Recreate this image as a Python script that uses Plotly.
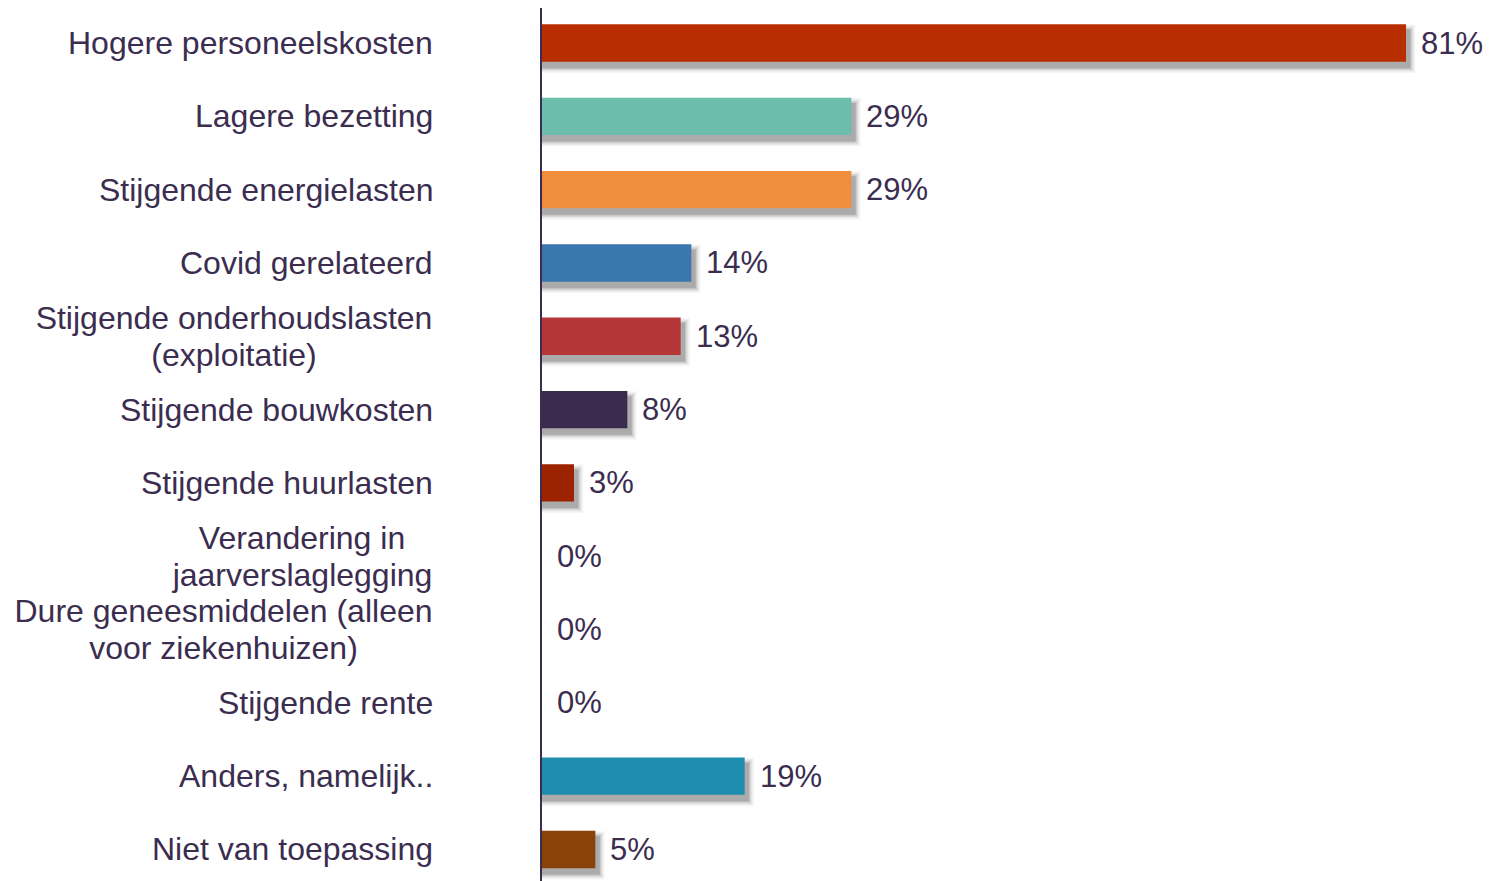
import plotly.graph_objects as go

categories = [
    "Hogere personeelskosten",
    "Lagere bezetting",
    "Stijgende energielasten",
    "Covid gerelateerd",
    "Stijgende onderhoudslasten<br>(exploitatie)",
    "Stijgende bouwkosten",
    "Stijgende huurlasten",
    "Verandering in<br>jaarverslaglegging",
    "Dure geneesmiddelen (alleen<br>voor ziekenhuizen)",
    "Stijgende rente",
    "Anders, namelijk..",
    "Niet van toepassing",
]
values = [81, 29, 29, 14, 13, 8, 3, 0, 0, 0, 19, 5]
value_labels = ["81%", "29%", "29%", "14%", "13%", "8%", "3%", "0%", "0%", "0%", "19%", "5%"]
colors = ["#B82E00", "#6DBDAC", "#F18E3D", "#3A77AE", "#B43636", "#3A2B4C",
          "#9C2200", "#888888", "#888888", "#888888", "#1F8DAD", "#8B4209"]

TEXT = "#3B2D4F"
FONT = "Liberation Sans, Arial, sans-serif"
BAR_W = 0.51
LINE_GAP = 37          # px between lines of wrapped labels
# box widths (px) used to centre wrapped label lines under each other
WRAP_BOX = {4: 398, 7: 262, 8: 419}
positions = list(range(len(categories)))

fig = go.Figure()

# soft drop shadow (several translucent layers, widest first)
dx_units = 0.35
dy_units = 0.08
for grow, alpha in [(0.075, 0.04), (0.055, 0.05), (0.038, 0.07), (0.022, 0.09), (0.008, 0.12)]:
    fig.add_trace(go.Bar(
        y=positions,
        x=[(v + dx_units + grow * 7) if v > 0 else 0 for v in values],
        base=0,
        orientation="h",
        width=BAR_W + 2 * grow,
        offset=-BAR_W / 2 + dy_units - grow,
        marker=dict(color=f"rgba(0,0,0,{alpha})", line=dict(width=0)),
        hoverinfo="skip",
        showlegend=False,
    ))

fig.add_trace(go.Bar(
    y=positions,
    x=values,
    orientation="h",
    width=BAR_W,
    marker=dict(color=colors, line=dict(width=0)),
    showlegend=False,
))

for p, v, lab in zip(positions, values, value_labels):
    fig.add_annotation(x=v, y=p, xref="x", yref="y", text=lab, showarrow=False,
                       xanchor="left", yanchor="middle", xshift=13,
                       font=dict(family=FONT, size=31, color=TEXT))

for p, c in zip(positions, categories):
    lines = c.split("<br>")
    n = len(lines)
    for i, ln in enumerate(lines):
        kw = {}
        if n > 1:
            kw["width"] = WRAP_BOX[p]
        fig.add_annotation(x=0, y=p, xref="paper", yref="y", text=ln, showarrow=False,
                           xanchor="right", yanchor="middle", xshift=-107,
                           yshift=-(i - (n - 1) / 2) * LINE_GAP, align="center",
                           font=dict(family=FONT, size=32, color=TEXT), **kw)

fig.update_layout(
    width=1483, height=873,
    margin=dict(l=534, r=0, t=0, b=0),
    paper_bgcolor="white", plot_bgcolor="white",
    barmode="overlay",
    xaxis=dict(range=[0, 949 / 10.667], showgrid=False, zeroline=False,
               showticklabels=False, showline=False, fixedrange=True),
    yaxis=dict(range=[11.43, -0.4775], showgrid=False, zeroline=False,
               showticklabels=False, ticks="", showline=True,
               linecolor=TEXT, linewidth=2, fixedrange=True),
)

fig.write_html("out.html")
